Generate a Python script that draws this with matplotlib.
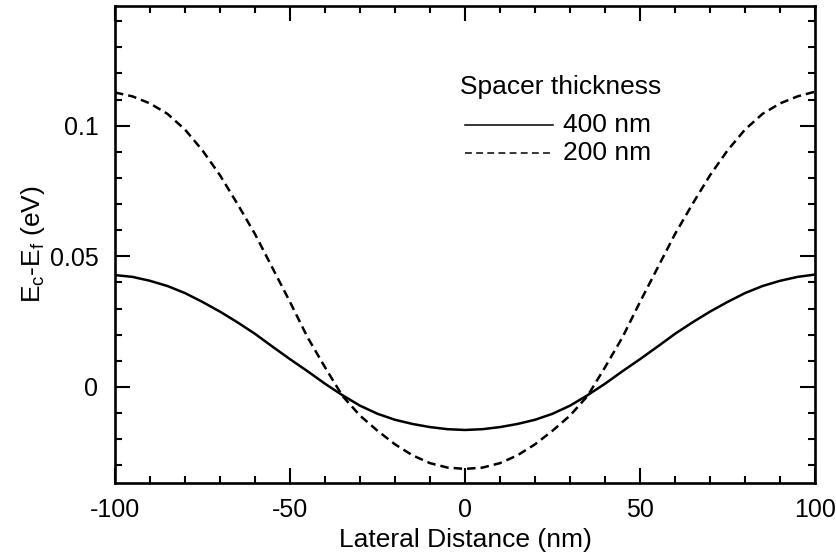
import matplotlib
matplotlib.use("Agg")
import matplotlib.pyplot as plt
from matplotlib.ticker import MultipleLocator

plt.rcParams['font.family'] = ['Liberation Sans', 'DejaVu Sans']
plt.rcParams['mathtext.fontset'] = 'custom'
plt.rcParams['mathtext.rm'] = 'Liberation Sans'
plt.rcParams['mathtext.it'] = 'Liberation Sans'

x_nm = [-100, -95, -90, -85, -80, -75, -70, -65, -60, -55, -50, -45, -40, -35, -30, -25, -20, -15, -10, -5,
        0, 5, 10, 15, 20, 25, 30, 35, 40, 45, 50, 55, 60, 65, 70, 75, 80, 85, 90, 95, 100]

spacer_400 = [0.0428, 0.0421, 0.0406, 0.0386, 0.0359, 0.0325, 0.0288, 0.0247, 0.0203, 0.0154, 0.0106,
              0.0060, 0.0012, -0.0032, -0.0072, -0.0103, -0.0126, -0.0142, -0.0154, -0.0162, -0.0165,
              -0.0162, -0.0154, -0.0142, -0.0126, -0.0103, -0.0072, -0.0032, 0.0012, 0.0060, 0.0106,
              0.0154, 0.0203, 0.0247, 0.0288, 0.0325, 0.0359, 0.0386, 0.0406, 0.0421, 0.0430]

spacer_200 = [0.1127, 0.1112, 0.1085, 0.1045, 0.0985, 0.0905, 0.0810, 0.0700, 0.0585, 0.0455, 0.0325,
              0.0190, 0.0075, -0.0035, -0.0110, -0.0168, -0.0220, -0.0262, -0.0292, -0.0309, -0.0314,
              -0.0309, -0.0292, -0.0262, -0.0220, -0.0168, -0.0110, -0.0035, 0.0075, 0.0190, 0.0325,
              0.0455, 0.0585, 0.0700, 0.0810, 0.0905, 0.0985, 0.1045, 0.1085, 0.1112, 0.1130]

x_ticks = [-100, -50, 0, 50, 100]
y_ticks = [0, 0.05, 0.1]
y_tick_labels = ['0', '0.05', '0.1']
legend_title = 'Spacer thickness'
legend_labels = ['400 nm', '200 nm']

fig = plt.figure(figsize=(8.37, 5.6), dpi=100)
ax = fig.add_axes([115/837, 1 - 483/560, 700/837, 477/560])

ax.plot(x_nm, spacer_400, color='black', lw=1.8, solid_capstyle='butt')
ax.plot(x_nm, spacer_200, color='black', lw=1.8, linestyle=(0, (3.4, 2.0)))

ax.set_xlim(-100, 100)
ax.set_ylim(-0.0368, 0.1458)

ax.set_xticks(x_ticks)
ax.set_xticklabels([str(v) for v in x_ticks])
ax.set_yticks(y_ticks)
ax.set_yticklabels(y_tick_labels)
ax.xaxis.set_minor_locator(MultipleLocator(10))
ax.yaxis.set_minor_locator(MultipleLocator(0.01))
ax.tick_params(which='both', direction='in', top=True, right=True, labelsize=18, width=1.5)
ax.tick_params(which='major', length=11)
ax.tick_params(axis='x', which='major', pad=11)
ax.tick_params(axis='y', which='major', pad=12)
ax.tick_params(which='minor', length=5)
for s in ax.spines.values():
    s.set_linewidth(1.9)

ax.set_xlabel('Lateral Distance (nm)', fontsize=19, labelpad=4)
ax.set_ylabel(r'E$_\mathrm{c}$-E$_\mathrm{f}$ (eV)', fontsize=19, labelpad=2)

# legend drawn manually
ax.text(0.493, 0.830, legend_title, transform=ax.transAxes, fontsize=19, ha='left', va='center')
ax.plot([0.50, 0.626], [0.7505, 0.7505], transform=ax.transAxes, color='black', lw=1.1)
ax.plot([0.50, 0.626], [0.692, 0.692], transform=ax.transAxes, color='black', lw=1.1,
        linestyle=(0, (4.5, 2.8)))
ax.text(0.64, 0.7505, legend_labels[0], transform=ax.transAxes, fontsize=19, ha='left', va='center')
ax.text(0.64, 0.692, legend_labels[1], transform=ax.transAxes, fontsize=19, ha='left', va='center')

fig.savefig('out.png', dpi=100)
